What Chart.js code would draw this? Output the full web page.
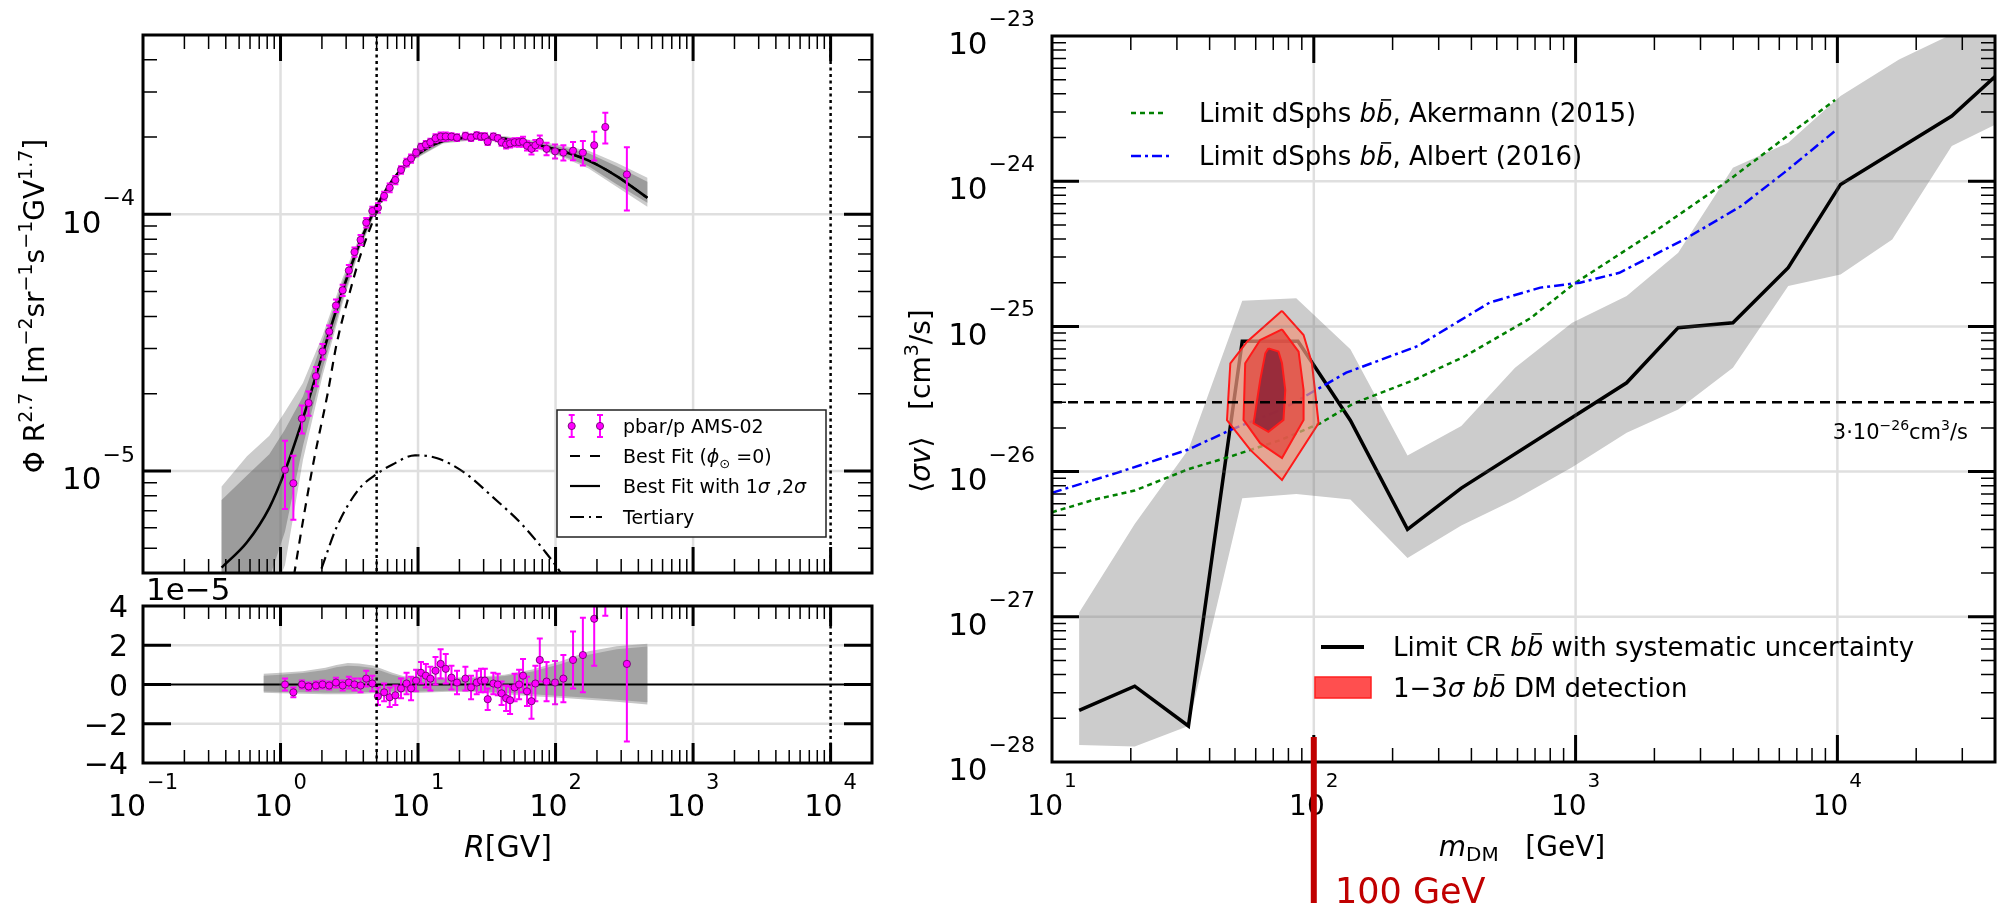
<!DOCTYPE html>
<html>
<head>
<meta charset="utf-8">
<script src="https://cdn.jsdelivr.net/npm/chart.js@4.4.1/dist/chart.umd.min.js"></script>
<style>
html, body { margin: 0; padding: 0; background: #fff; }
#wrap { position: relative; width: 2005px; height: 913px; overflow: hidden; background: #fff; }
canvas { position: absolute; left: 0; top: 0; }
</style>
</head>
<body>
<div id="wrap">
  <canvas id="fluxChart" width="2005" height="913"></canvas>
  <canvas id="resChart" width="2005" height="913"></canvas>
  <canvas id="limitChart" width="2005" height="913"></canvas>
</div>
<script>
// ---------------- data: pbar/p flux (left top) ----------------
const amsR = [1.078, 1.24, 1.43, 1.60, 1.81, 2.02, 2.26, 2.53, 2.83, 3.14, 3.45, 3.82, 4.20, 4.65, 5.11, 5.67, 6.22, 6.84, 7.52, 8.25,
  8.90, 9.68, 10.5, 11.4, 12.3, 13.4, 14.6, 15.9, 17.5, 19.2, 22.1, 24.3, 26.7, 28.7, 30.6, 32.1, 35.3, 38.0, 40.5, 43.7,
  46.7, 50.4, 54.3, 58.0, 62.0, 66.8, 71.3, 76.8, 86.0, 99.2, 114, 134, 158, 191, 230, 330];
const amsFlux = [1.01e-5, 8.95e-6, 1.60e-5, 1.84e-5, 2.34e-5, 2.92e-5, 3.49e-5, 4.41e-5, 5.06e-5, 6.04e-5, 7.13e-5, 7.95e-5, 9.28e-5, 1.03e-4, 1.06e-4, 1.18e-4, 1.27e-4, 1.36e-4, 1.49e-4, 1.59e-4,
  1.65e-4, 1.74e-4, 1.83e-4, 1.87e-4, 1.91e-4, 1.98e-4, 2.01e-4, 2.01e-4, 2.01e-4, 1.99e-4, 2.02e-4, 1.99e-4, 2.03e-4, 2.01e-4, 2.01e-4, 1.92e-4, 2.01e-4, 1.98e-4, 1.91e-4, 1.87e-4,
  1.89e-4, 1.91e-4, 1.91e-4, 1.92e-4, 1.85e-4, 1.80e-4, 1.86e-4, 1.92e-4, 1.80e-4, 1.76e-4, 1.74e-4, 1.77e-4, 1.74e-4, 1.86e-4, 2.19e-4, 1.43e-4];
// residuals and errors in units of 1e-5
const amsResid = [0, -0.4, 0, -0.1, -0.05, 0, -0.05, 0.1, -0.05, 0.1, 0, -0.05, 0.3, 0.05, -0.6, -0.4, -0.65, -0.55, -0.2, 0.05,
  -0.2, 0.2, 0.6, 0.45, 0.3, 0.7, 1.05, 0.8, 0.35, 0.1, 0.3, -0.15, 0.1, 0.2, 0.2, -0.75, 0.05, 0, -0.45, -0.7,
  -0.8, -0.15, 0, 0.45, -0.35, -0.85, 0.05, 1.25, 0.15, 0.1, 0.3, 1.25, 1.5, 3.35, 6.5, 1.05];
const amsErr = [0.3, 0.25, 0.2, 0.2, 0.2, 0.2, 0.2, 0.25, 0.25, 0.3, 0.3, 0.35, 0.4, 0.4, 0.45, 0.45, 0.5, 0.5, 0.5, 0.55,
  0.6, 0.55, 0.55, 0.6, 0.6, 0.7, 0.75, 0.75, 0.6, 0.6, 0.6, 0.6, 0.6, 0.6, 0.6, 0.55, 0.55, 0.55, 0.6, 0.65,
  0.7, 0.7, 0.75, 0.85, 0.75, 0.9, 0.9, 1.1, 1.0, 1.1, 1.2, 1.45, 1.9, 2.4, 3.0, 3.95];

const fitR = [0.373, 0.57, 0.829, 1.078, 1.455, 2.02, 2.81, 3.72, 4.84, 6.53, 9.5, 15.2, 26.7, 42.6, 74.8, 109, 174, 278, 465];
const fitFlux = [4.2e-6, 5.27e-6, 7.18e-6, 1.0e-5, 1.6e-5, 2.85e-5, 5.0e-5, 7.6e-5, 1.04e-4, 1.36e-4, 1.68e-4, 1.93e-4, 1.99e-4, 1.97e-4, 1.86e-4, 1.77e-4, 1.62e-4, 1.41e-4, 1.16e-4];
const fitHi2 = [8.7e-6, 1.14e-5, 1.37e-5, 1.7e-5, 2.2e-5, 3.36e-5, 5.6e-5, 8.1e-5, 1.08e-4, 1.40e-4, 1.72e-4, 1.97e-4, 2.03e-4, 2.02e-4, 1.93e-4, 1.86e-4, 1.77e-4, 1.59e-4, 1.39e-4];
const fitHi1 = [7.7e-6, 9.6e-6, 1.16e-5, 1.45e-5, 1.95e-5, 3.2e-5, 5.4e-5, 7.95e-5, 1.07e-4, 1.39e-4, 1.71e-4, 1.96e-4, 2.02e-4, 2.0e-4, 1.90e-4, 1.83e-4, 1.73e-4, 1.54e-4, 1.34e-4];
const fitLo1 = [2.6e-6, 3.0e-6, 3.8e-6, 5.8e-6, 1.25e-5, 2.5e-5, 4.6e-5, 7.3e-5, 1.01e-4, 1.33e-4, 1.65e-4, 1.90e-4, 1.96e-4, 1.93e-4, 1.81e-4, 1.70e-4, 1.54e-4, 1.31e-4, 1.11e-4];
const fitLo2 = [2.2e-6, 2.5e-6, 3.0e-6, 4.3e-6, 1.1e-5, 2.35e-5, 4.45e-5, 7.15e-5, 1.0e-4, 1.32e-4, 1.64e-4, 1.89e-4, 1.95e-4, 1.91e-4, 1.79e-4, 1.68e-4, 1.51e-4, 1.28e-4, 1.07e-4];

const noModR = [1.2, 1.5, 1.76, 2.2, 2.56, 3.2, 3.72, 4.4, 5.2, 6.5, 9.5, 15.2, 26.7, 42.6, 74.8, 109, 174, 278, 465];
const noModFlux = [3.4e-6, 7.0e-6, 1.12e-5, 2.0e-5, 3.13e-5, 5.0e-5, 6.65e-5, 8.6e-5, 1.07e-4, 1.35e-4, 1.68e-4, 1.93e-4, 1.99e-4, 1.97e-4, 1.86e-4, 1.77e-4, 1.62e-4, 1.41e-4, 1.16e-4];

const tertR = [1.7, 1.93, 2.56, 3.72, 4.84, 6.53, 9.5, 13.8, 22, 35, 56, 82, 109, 125];
const tertFlux = [3.4e-6, 4.0e-6, 6.04e-6, 8.5e-6, 9.6e-6, 1.06e-5, 1.15e-5, 1.12e-5, 9.8e-6, 7.9e-6, 6.25e-6, 4.92e-6, 4.0e-6, 3.5e-6];

const guideR = [5, 10000];

// residual band (units of 1e-5)
const resBandR = [0.755, 1.0, 1.45, 2.12, 2.55, 3.08, 3.72, 4.7, 6.5, 7.9, 10.4, 16.7, 26.7, 42.6, 68, 109, 174, 278, 465];
const resHi2 = [0.55, 0.6, 0.68, 0.85, 1.0, 1.1, 1.07, 0.97, 0.6, 0.42, 0.42, 0.34, 0.39, 0.5, 0.76, 1.19, 1.69, 1.95, 2.08];
const resHi1 = [0.45, 0.5, 0.58, 0.74, 0.88, 0.96, 0.93, 0.84, 0.5, 0.36, 0.36, 0.29, 0.33, 0.43, 0.66, 1.05, 1.52, 1.8, 1.93];
const resLo1 = [-0.36, -0.38, -0.4, -0.42, -0.42, -0.42, -0.4, -0.38, -0.36, -0.35, -0.36, -0.32, -0.33, -0.42, -0.5, -0.58, -0.68, -0.78, -0.9];
const resLo2 = [-0.42, -0.45, -0.47, -0.5, -0.5, -0.5, -0.48, -0.45, -0.42, -0.41, -0.42, -0.37, -0.4, -0.5, -0.6, -0.68, -0.78, -0.88, -1.02];
const resZeroR = [0.1, 20000];
const resTicks = [-4, -2, 0, 2, 4];

// ---------------- data: DM limits (right) ----------------
const limitM = [12.7, 20.7, 33.2, 53.3, 87, 138, 228, 366, 1567, 2466, 3990, 6490, 10280, 27350, 40500];
const limitV = [2.27e-28, 3.33e-28, 1.77e-28, 7.9e-26, 7.9e-26, 2.25e-26, 4.0e-27, 7.7e-27, 4.09e-26, 9.8e-26, 1.06e-25, 2.54e-25, 9.5e-25, 2.81e-24, 5.36e-24];
const bandUpM = [12.7, 20.7, 33.2, 53.3, 85.7, 138, 228, 366, 587, 970, 1567, 2466, 3990, 6490, 10280, 17200, 26500, 40500];
const bandUpV = [1.07e-27, 4.36e-27, 1.42e-26, 1.5e-25, 1.56e-25, 6.95e-26, 1.29e-26, 2.06e-26, 5.19e-26, 1.06e-25, 1.62e-25, 3.21e-25, 1.24e-24, 1.84e-24, 3.86e-24, 6.9e-24, 1.0e-23, 1.6e-23];
const bandLoM = [12.7, 20.7, 33.2, 53.3, 85.7, 138, 228, 366, 587, 970, 1567, 2466, 3990, 6490, 10280, 16200, 27350, 40500];
const bandLoV = [1.31e-28, 1.28e-28, 1.77e-28, 6.56e-27, 7.02e-27, 6.42e-27, 2.54e-27, 4.25e-27, 6.42e-27, 1.07e-26, 1.85e-26, 2.68e-26, 5.19e-26, 1.9e-25, 2.28e-25, 3.97e-25, 1.75e-24, 2.47e-24];

const ackM = [10, 14.6, 20.7, 33.2, 48, 74.6, 105.8, 142, 241, 375, 673, 1000, 2018, 3800, 9800];
const ackV = [5.25e-27, 6.43e-27, 7.4e-27, 1.04e-26, 1.27e-26, 1.65e-26, 2.15e-26, 2.95e-26, 4.27e-26, 6.18e-26, 1.14e-25, 2.0e-25, 4.54e-25, 1.0e-24, 3.63e-24];
const albM = [10, 17.7, 33.2, 48.5, 75.6, 133, 250, 470, 733, 1039, 1470, 2600, 4290, 6280, 9800];
const albV = [7.15e-27, 9.8e-27, 1.42e-26, 1.95e-26, 2.68e-26, 4.8e-26, 7.33e-26, 1.46e-25, 1.85e-25, 2.0e-25, 2.34e-25, 3.97e-25, 6.74e-25, 1.15e-24, 2.22e-24];

const c3M = [75.6, 91.4, 98.4, 104.3, 75.6, 57.2, 46.6, 48, 55.6, 75.6];
const c3V = [1.28e-25, 8.73e-26, 5.57e-26, 2.15e-26, 8.75e-27, 1.41e-26, 2.26e-26, 5.57e-26, 7.85e-26, 1.28e-25];
const c2M = [75.6, 87.5, 91.4, 91.4, 75.6, 62.4, 53.9, 54.7, 62.4, 75.6];
const c2V = [9.55e-26, 6.7e-26, 3.65e-26, 2.27e-26, 1.24e-26, 1.57e-26, 2.27e-26, 5.57e-26, 8.05e-26, 9.55e-26];
const c1M = [67.1, 73.3, 75.6, 77.8, 76.6, 67.1, 58.9, 62.4, 65.3, 67.1];
const c1V = [7.06e-26, 6.7e-26, 5.57e-26, 3.65e-26, 2.27e-26, 1.88e-26, 2.15e-26, 4.27e-26, 6.53e-26, 7.06e-26];

const thermalM = [10, 40000];
const thermalV = [3e-26, 3e-26];
const markMass = 100;

// ---------------- helpers ----------------
const FAM = '"DejaVu Sans", "Liberation Sans", sans-serif';
const fnt = (s, it) => (it ? 'italic ' : '') + s + 'px ' + FAM;

const pts = (xs, ys) => xs.map((x, i) => ({ x, y: ys[i] }));
function poly(xu, yu, xl, yl) {
  const p = pts(xu, yu);
  for (let i = xl.length - 1; i >= 0; i--) p.push({ x: xl[i], y: yl[i] });
  p.push(p[0]);
  return p;
}
function lineDs(xs, ys, color, width, dash, extra) {
  return Object.assign({
    data: pts(xs, ys), showLine: true, borderColor: color, borderWidth: width,
    borderDash: dash || [], pointRadius: 0, fill: false, tension: 0
  }, extra || {});
}
function polyDs(data, fillColor, edge, edgeWidth) {
  return {
    data, showLine: true, fill: 'shape', backgroundColor: fillColor,
    borderColor: edge || 'rgba(0,0,0,0)', borderWidth: edgeWidth || 0.01, pointRadius: 0, tension: 0
  };
}

function logTicks(min, max) {
  const out = [];
  for (let n = Math.floor(Math.log10(min)); n <= Math.ceil(Math.log10(max)); n++) {
    for (let k = 1; k <= 9; k++) {
      const v = k * Math.pow(10, n);
      if (v >= min * 0.999 && v <= max * 1.001) out.push({ v, major: k === 1 });
    }
  }
  return out;
}

function richWidth(ctx, segs) {
  let w = 0;
  segs.forEach(s => { ctx.font = fnt(s.s, s.i); w += ctx.measureText(s.t).width; });
  return w;
}
function drawRich(ctx, segs, x, y, align, color) {
  const w = richWidth(ctx, segs);
  let cx = align === 'center' ? x - w / 2 : align === 'right' ? x - w : x;
  ctx.textAlign = 'left';
  ctx.textBaseline = 'alphabetic';
  ctx.fillStyle = color || '#000';
  segs.forEach(s => {
    ctx.font = fnt(s.s, s.i);
    const sw = ctx.measureText(s.t).width;
    ctx.fillText(s.t, cx, y + (s.dy || 0));
    if (s.bar) ctx.fillRect(cx + sw * 0.3, y + (s.dy || 0) - s.s * 0.88, sw * 0.62, Math.max(1.5, s.s * 0.06));
    cx += sw;
  });
}
const bb = (s) => [{ t: 'b', s, i: true }, { t: 'b', s, i: true, bar: true }];

function drawPow(ctx, exp, x, yBase, ySup, align, base, sup) {
  ctx.font = fnt(base); const wb = ctx.measureText('10').width;
  ctx.font = fnt(sup); const ws = ctx.measureText(exp).width;
  const w = wb + ws + 1;
  const left = align === 'right' ? x - w : x - w / 2;
  ctx.textAlign = 'left'; ctx.textBaseline = 'alphabetic'; ctx.fillStyle = '#000';
  ctx.font = fnt(base); ctx.fillText('10', left, yBase + base * 0.364);
  ctx.font = fnt(sup); ctx.fillText(exp, left + wb + 1, ySup + sup * 0.364);
}

function drawGrid(chart, xs, ys) {
  const { ctx, chartArea: a, scales: { x, y } } = chart;
  ctx.save();
  ctx.strokeStyle = 'rgba(110,110,110,0.22)';
  ctx.lineWidth = 2.5;
  ctx.beginPath();
  xs.forEach(v => { const p = x.getPixelForValue(v); ctx.moveTo(p, a.top); ctx.lineTo(p, a.bottom); });
  ys.forEach(v => { const p = y.getPixelForValue(v); ctx.moveTo(a.left, p); ctx.lineTo(a.right, p); });
  ctx.stroke();
  ctx.restore();
}

function drawAxes(chart, xt, yt, xMaj, yMaj, mnr) {
  const { ctx, chartArea: a, scales: { x, y } } = chart;
  ctx.save();
  ctx.strokeStyle = '#000';
  [true, false].forEach(major => {
    ctx.lineWidth = major ? 3 : 1.5;
    ctx.beginPath();
    xt.filter(t => t.major === major).forEach(t => {
      const p = x.getPixelForValue(t.v);
      if (p < a.left + 2 || p > a.right - 2) return;
      const len = major ? xMaj : mnr;
      ctx.moveTo(p, a.bottom); ctx.lineTo(p, a.bottom - len);
      ctx.moveTo(p, a.top); ctx.lineTo(p, a.top + len);
    });
    yt.filter(t => t.major === major).forEach(t => {
      const p = y.getPixelForValue(t.v);
      if (p < a.top + 2 || p > a.bottom - 2) return;
      const len = major ? yMaj : mnr;
      ctx.moveTo(a.left, p); ctx.lineTo(a.left + len, p);
      ctx.moveTo(a.right, p); ctx.lineTo(a.right - len, p);
    });
    ctx.stroke();
  });
  ctx.lineWidth = 3;
  ctx.strokeRect(a.left, a.top, a.right - a.left, a.bottom - a.top);
  ctx.restore();
}

function drawGuides(chart) {
  const { ctx, chartArea: a, scales: { x } } = chart;
  ctx.save();
  ctx.strokeStyle = '#000'; ctx.lineWidth = 2.5; ctx.setLineDash([3, 3.5]);
  guideR.forEach(v => {
    const p = x.getPixelForValue(v);
    ctx.beginPath(); ctx.moveTo(p, a.top); ctx.lineTo(p, a.bottom); ctx.stroke();
  });
  ctx.restore();
}

function drawErrorBars(chart, xs, ys, errs, unit) {
  const { ctx, chartArea: a, scales: { x, y } } = chart;
  ctx.save();
  ctx.beginPath(); ctx.rect(a.left, a.top, a.right - a.left, a.bottom - a.top); ctx.clip();
  ctx.strokeStyle = '#ff00ff'; ctx.lineWidth = 2;
  xs.forEach((r, i) => {
    const px = x.getPixelForValue(r);
    const e = errs[i] * unit;
    const y1 = y.getPixelForValue(ys[i] - e), y2 = y.getPixelForValue(ys[i] + e);
    ctx.beginPath();
    ctx.moveTo(px, y1); ctx.lineTo(px, y2);
    ctx.moveTo(px - 3, y1); ctx.lineTo(px + 3, y1);
    ctx.moveTo(px - 3, y2); ctx.lineTo(px + 3, y2);
    ctx.stroke();
  });
  ctx.restore();
}

function baseOptions(pad, xr, yType, yr) {
  return {
    responsive: false, animation: false, devicePixelRatio: 1, events: [],
    layout: { padding: pad, autoPadding: false },
    plugins: { legend: { display: false }, tooltip: { enabled: false } },
    scales: {
      x: { type: 'logarithmic', min: xr[0], max: xr[1], display: false },
      y: { type: yType, min: yr[0], max: yr[1], display: false }
    }
  };
}

const pointStyle = {
  showLine: false, pointRadius: 3.6, pointBackgroundColor: '#ff00ff',
  pointBorderColor: '#5a005a', pointBorderWidth: 0.8
};
const smooth = { cubicInterpolationMode: 'monotone' };

// ---------------- left top chart ----------------
const fluxDeco = {
  id: 'fluxDeco',
  beforeDatasetDraw(chart, args) {
    if (args.index === 0) drawErrorBars(chart, amsR, amsFlux, amsErr, 1e-5);
  },
  afterDatasetsDraw(chart) {
    drawGrid(chart, [1, 10, 100, 1000], [1e-5, 1e-4]);
    drawGuides(chart);
  },
  afterDraw(chart) {
    const { ctx, scales: { y } } = chart;
    drawAxes(chart, logTicks(0.1, 20000), logTicks(4e-6, 5e-4), 26, 28, 14);
    [[1e-5, '−5'], [1e-4, '−4']].forEach(([v, e]) => {
      const p = y.getPixelForValue(v);
      drawPow(ctx, e, 135, p + 7, p - 17, 'right', 31, 22);
    });
    // y title
    ctx.save();
    ctx.translate(44, 306);
    ctx.rotate(-Math.PI / 2);
    const S = 28, s = 19, up = -12;
    drawRich(ctx, [
      { t: 'Φ R', s: S }, { t: '2.7', s, dy: up }, { t: ' [m', s: S }, { t: '−2', s, dy: up },
      { t: 'sr', s: S }, { t: '−1', s, dy: up }, { t: 's', s: S }, { t: '−1', s, dy: up },
      { t: 'GV', s: S }, { t: '1.7', s, dy: up }, { t: ']', s: S }
    ], 0, 0, 'center');
    ctx.restore();
    // legend box
    ctx.save();
    ctx.fillStyle = '#fff'; ctx.fillRect(557, 410, 269, 127);
    ctx.strokeStyle = '#222'; ctx.lineWidth = 1.5; ctx.strokeRect(557, 410, 269, 127);
    [571.7, 600].forEach(mx => {
      ctx.strokeStyle = '#ff00ff'; ctx.lineWidth = 2;
      ctx.beginPath();
      ctx.moveTo(mx, 415); ctx.lineTo(mx, 437);
      ctx.moveTo(mx - 3, 415); ctx.lineTo(mx + 3, 415);
      ctx.moveTo(mx - 3, 437); ctx.lineTo(mx + 3, 437);
      ctx.stroke();
      ctx.beginPath(); ctx.arc(mx, 426, 3.6, 0, Math.PI * 2);
      ctx.fillStyle = '#ff00ff'; ctx.fill();
      ctx.strokeStyle = '#5a005a'; ctx.lineWidth = 0.8; ctx.stroke();
    });
    ctx.strokeStyle = '#000'; ctx.lineWidth = 2.2;
    ctx.setLineDash([10, 10]);
    ctx.beginPath(); ctx.moveTo(570, 456); ctx.lineTo(600, 456); ctx.stroke();
    ctx.setLineDash([]);
    ctx.beginPath(); ctx.moveTo(570, 486); ctx.lineTo(600, 486); ctx.stroke();
    ctx.setLineDash([14, 5, 2, 5]);
    ctx.beginPath(); ctx.moveTo(570, 517); ctx.lineTo(602, 517); ctx.stroke();
    ctx.setLineDash([]);
    const L = 19;
    drawRich(ctx, [{ t: 'pbar/p AMS-02', s: L }], 623, 433, 'left');
    drawRich(ctx, [{ t: 'Best Fit (', s: L }, { t: 'ϕ', s: L, i: true }, { t: '⊙', s: 13, dy: 5 }, { t: ' =0)', s: L }], 623, 463, 'left');
    drawRich(ctx, [{ t: 'Best Fit with 1', s: L }, { t: 'σ', s: L, i: true }, { t: ' ,2', s: L }, { t: 'σ', s: L, i: true }], 623, 493, 'left');
    drawRich(ctx, [{ t: 'Tertiary', s: L }], 623, 524, 'left');
    ctx.restore();
  }
};

new Chart(document.getElementById('fluxChart'), {
  type: 'scatter',
  data: {
    datasets: [
      Object.assign({ data: pts(amsR, amsFlux) }, pointStyle),
      lineDs(fitR, fitFlux, '#000', 2.6, [], smooth),
      lineDs(noModR, noModFlux, '#000', 2.2, [9, 7], smooth),
      lineDs(tertR, tertFlux, '#000', 2.2, [12, 5, 2.5, 5], smooth),
      polyDs(poly(fitR, fitHi1, fitR, fitLo1), '#9c9c9c'),
      polyDs(poly(fitR, fitHi2, fitR, fitLo2), '#cbcbcb')
    ]
  },
  options: baseOptions({ left: 143, top: 35, right: 1133, bottom: 340 }, [0.1, 20000], 'logarithmic', [4e-6, 5e-4]),
  plugins: [fluxDeco]
});

// ---------------- left bottom chart (residuals) ----------------
const resDeco = {
  id: 'resDeco',
  beforeDatasetDraw(chart, args) {
    if (args.index === 0) drawErrorBars(chart, amsR, amsResid, amsErr, 1);
  },
  afterDatasetsDraw(chart) {
    drawGrid(chart, [1, 10, 100, 1000], [-2, 2]);
    drawGuides(chart);
  },
  afterDraw(chart) {
    const { ctx, scales: { x, y } } = chart;
    drawAxes(chart, logTicks(0.1, 20000), resTicks.map(v => ({ v, major: true })), 20, 28, 13);
    ctx.save();
    ctx.fillStyle = '#000'; ctx.font = fnt(30); ctx.textAlign = 'right'; ctx.textBaseline = 'alphabetic';
    resTicks.forEach(v => {
      ctx.fillText(v < 0 ? '−' + Math.abs(v) : String(v), 128, y.getPixelForValue(v) + 11);
    });
    ctx.textAlign = 'left';
    ctx.font = fnt(31);
    ctx.fillText('1e−5', 146, 600);
    [[0.1, '−1'], [1, '0'], [10, '1'], [100, '2'], [1000, '3'], [10000, '4']].forEach(([v, e]) => {
      drawPow(ctx, e, x.getPixelForValue(v), 805, 781, 'center', 30, 21);
    });
    drawRich(ctx, [{ t: 'R', s: 30, i: true }, { t: '[GV]', s: 30 }], 508, 857, 'center');
    ctx.restore();
  }
};

new Chart(document.getElementById('resChart'), {
  type: 'scatter',
  data: {
    datasets: [
      Object.assign({ data: pts(amsR, amsResid) }, pointStyle),
      lineDs(resZeroR, [0, 0], '#000', 2),
      polyDs(poly(resBandR, resHi1, resBandR, resLo1), '#a2a2a2'),
      polyDs(poly(resBandR, resHi2, resBandR, resLo2), '#c6c6c6')
    ]
  },
  options: baseOptions({ left: 143, top: 606, right: 1133, bottom: 150 }, [0.1, 20000], 'linear', [-4, 4]),
  plugins: [resDeco]
});

// ---------------- right chart (DM limits) ----------------
const limitDeco = {
  id: 'limitDeco',
  afterDatasetsDraw(chart) {
    drawGrid(chart, [100, 1000, 10000], [1e-27, 1e-26, 1e-25, 1e-24]);
  },
  afterDraw(chart) {
    const { ctx, scales: { x, y } } = chart;
    drawAxes(chart, logTicks(10, 40000), logTicks(1e-28, 1e-23), 27, 27, 14);
    ctx.save();
    [-28, -27, -26, -25, -24, -23].forEach(n => {
      const p = y.getPixelForValue(Math.pow(10, n));
      drawPow(ctx, '−' + Math.abs(n), 1035, p + 7, p - 18, 'right', 31, 22);
    });
    [[10, '1'], [100, '2'], [1000, '3'], [10000, '4']].forEach(([v, e]) => {
      drawPow(ctx, e, x.getPixelForValue(v), 805, 780, 'center', 28, 20);
    });
    // axis titles
    drawRich(ctx, [{ t: 'm', s: 28, i: true }, { t: 'DM', s: 20, dy: 5 }, { t: '   [GeV]', s: 28 }], 1522, 856, 'center');
    ctx.save();
    ctx.translate(930, 401);
    ctx.rotate(-Math.PI / 2);
    drawRich(ctx, [{ t: '⟨', s: 28 }, { t: 'σv', s: 28, i: true }, { t: '⟩', s: 28 }, { t: '   [cm', s: 28 }, { t: '3', s: 19, dy: -12 }, { t: '/s]', s: 28 }], 0, 0, 'center');
    ctx.restore();
    // thermal label
    drawRich(ctx, [{ t: '3·10', s: 21 }, { t: '−26', s: 14, dy: -9 }, { t: 'cm', s: 21 }, { t: '3', s: 14, dy: -9 }, { t: '/s', s: 21 }], 1968, 439, 'right');
    // legends
    const F = 26;
    ctx.lineWidth = 2.5;
    ctx.strokeStyle = '#008000'; ctx.setLineDash([5, 4]);
    ctx.beginPath(); ctx.moveTo(1131, 113); ctx.lineTo(1167, 113); ctx.stroke();
    ctx.strokeStyle = '#0000ff'; ctx.setLineDash([10, 4, 3, 4]);
    ctx.beginPath(); ctx.moveTo(1131, 156); ctx.lineTo(1169, 156); ctx.stroke();
    ctx.setLineDash([]);
    drawRich(ctx, [{ t: 'Limit dSphs ', s: F }].concat(bb(F), [{ t: ', Akermann (2015)', s: F }]), 1199, 122, 'left');
    drawRich(ctx, [{ t: 'Limit dSphs ', s: F }].concat(bb(F), [{ t: ', Albert (2016)', s: F }]), 1199, 165, 'left');
    ctx.strokeStyle = '#000'; ctx.lineWidth = 4;
    ctx.beginPath(); ctx.moveTo(1321, 647); ctx.lineTo(1364, 647); ctx.stroke();
    ctx.fillStyle = 'rgba(255,60,60,0.9)'; ctx.fillRect(1315, 677, 56, 21);
    ctx.strokeStyle = '#ff2020'; ctx.lineWidth = 1.5; ctx.strokeRect(1315, 677, 56, 21);
    drawRich(ctx, [{ t: 'Limit CR ', s: F }].concat(bb(F), [{ t: ' with systematic uncertainty', s: F }]), 1393, 656, 'left');
    drawRich(ctx, [{ t: '1−3', s: F }, { t: 'σ', s: F, i: true }, { t: ' ', s: F }].concat(bb(F), [{ t: ' DM detection', s: F }]), 1393, 697, 'left');
    // 100 GeV marker
    const px = x.getPixelForValue(markMass);
    ctx.fillStyle = '#c00000';
    ctx.fillRect(px - 3, 737, 6, 166);
    drawRich(ctx, [{ t: '100 GeV', s: 35 }], 1335, 903, 'left', '#c00000');
    ctx.restore();
  }
};

new Chart(document.getElementById('limitChart'), {
  type: 'scatter',
  data: {
    datasets: [
      lineDs(thermalM, thermalV, '#000', 2.5, [10, 6]),
      polyDs(pts(c1M, c1V), 'rgba(140,35,55,0.85)', '#ff1a1a', 2),
      polyDs(pts(c2M, c2V), 'rgba(225,75,65,0.8)', '#ff1a1a', 2),
      polyDs(pts(c3M, c3V), 'rgba(238,150,125,0.72)', '#ff1a1a', 2),
      lineDs(albM, albV, '#0000ff', 2.5, [10, 4, 3, 4]),
      lineDs(ackM, ackV, '#008000', 2.5, [5, 4]),
      lineDs(limitM, limitV, '#000', 3.5),
      polyDs(poly(bandUpM, bandUpV, bandLoM, bandLoV), '#cccccc')
    ]
  },
  options: baseOptions({ left: 1052, top: 36, right: 10, bottom: 151 }, [10, 40000], 'logarithmic', [1e-28, 1e-23]),
  plugins: [limitDeco]
});
</script>
</body>
</html>
